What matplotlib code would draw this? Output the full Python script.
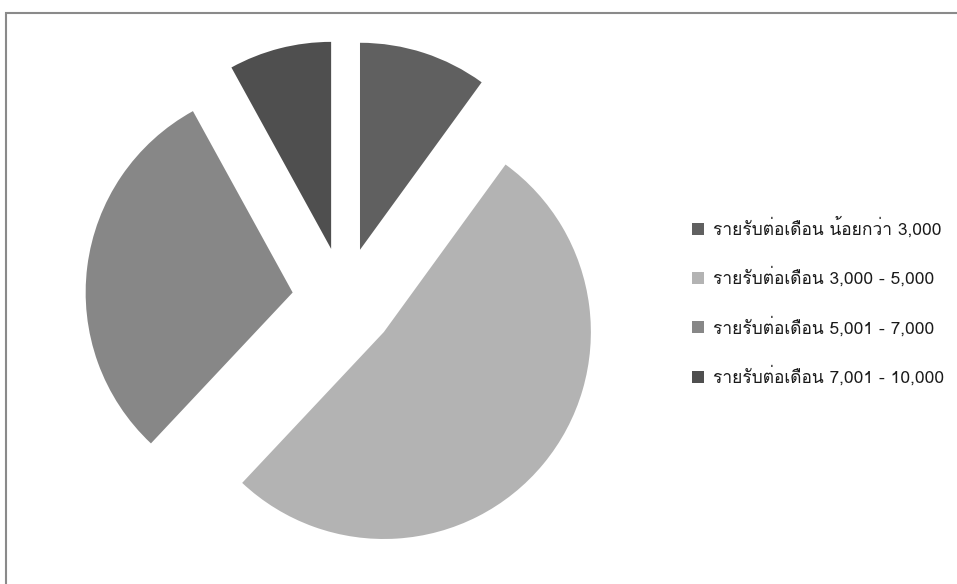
import matplotlib
matplotlib.use("Agg")
import matplotlib.pyplot as plt
from matplotlib import font_manager
from matplotlib.patches import Rectangle

labels = ["รายรับต่อเดือน น้อยกว่า 3,000",
          "รายรับต่อเดือน 3,000 - 5,000",
          "รายรับต่อเดือน 5,001 - 7,000",
          "รายรับต่อเดือน 7,001 - 10,000"]
values = [10, 52, 30, 8]
colors = ["#606060", "#b3b3b3", "#878787", "#4f4f4f"]

# Loma (TLWG) for the Thai legend text
loma = [p for p in font_manager.findSystemFonts() if p.endswith('/Loma.otf')]
if loma:
    font_manager.fontManager.addfont(loma[0])
    fam = font_manager.FontProperties(fname=loma[0]).get_name()
else:
    fam = 'DejaVu Sans'
plt.rcParams['font.family'] = [fam, 'DejaVu Sans']

W, H = 957, 584
fig = plt.figure(figsize=(W / 100, H / 100), dpi=100)

# pie centre (344, 299) px, radius 207 px
r = 207
cx, cy = 344, H - 299
xr, yr = 1.5, 1.3
ax = fig.add_axes([(cx - xr * r) / W, (cy - yr * r) / H,
                   2 * xr * r / W, 2 * yr * r / H])
wedges, _ = ax.pie(values, colors=colors, startangle=90, counterclock=False,
                   explode=[0.25] * 4, wedgeprops=dict(linewidth=0))
ax.set_xlim(-xr, xr)
ax.set_ylim(-yr, yr)
ax.set_aspect('auto')
ax.axis('off')

fig.legend(wedges, labels, loc='center left',
           bbox_to_anchor=(692 / W, 1 - 302 / H), frameon=False,
           fontsize=12.5, handlelength=0.7, handleheight=0.7,
           handletextpad=0.5, labelspacing=1.66, borderpad=0,
           borderaxespad=0, labelcolor='#1a1a1a')

# chart border
fig.add_artist(Rectangle((5.5 / W, -0.05), 1.2, 1 - 12.5 / H + 0.05,
                         transform=fig.transFigure, fill=False,
                         edgecolor='#8a8a8a', linewidth=1.5))

fig.savefig("out.png", dpi=100)
